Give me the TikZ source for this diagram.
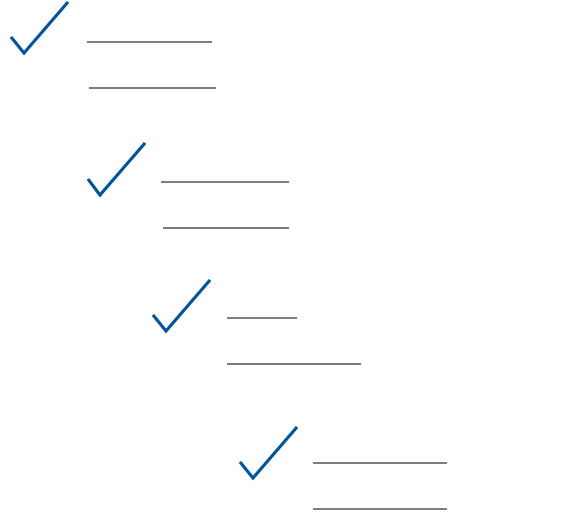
\documentclass[tikz,border=0pt]{standalone}
\usepackage{xcolor}
\definecolor{checkblue}{HTML}{0055A4}
\definecolor{rulegrey}{HTML}{7F7F7F}
\begin{document}
\begin{tikzpicture}[x=1pt,y=-1pt,
  checkmark/.style={draw=checkblue,line width=3pt},
  greyrule/.style={draw=rulegrey,line width=2pt}]
\useasboundingbox (0,0) rectangle (588,511);
% row 1
\draw[checkmark] (11,37) -- (24,53) -- (68,2);
\draw[greyrule] (87,42) -- (212,42);
\draw[greyrule] (89,88) -- (216,88);
% row 2
\draw[checkmark] (88,179) -- (100,195) -- (145,143);
\draw[greyrule] (161,182) -- (289,182);
\draw[greyrule] (163,228) -- (289,228);
% row 3
\draw[checkmark] (153,315) -- (166,331) -- (210,280);
\draw[greyrule] (227,318) -- (297,318);
\draw[greyrule] (227,364) -- (361,364);
% row 4
\draw[checkmark] (240,462) -- (253,478) -- (297,427);
\draw[greyrule] (313,463) -- (447,463);
\draw[greyrule] (313,509) -- (447,509);
\end{tikzpicture}
\end{document}
